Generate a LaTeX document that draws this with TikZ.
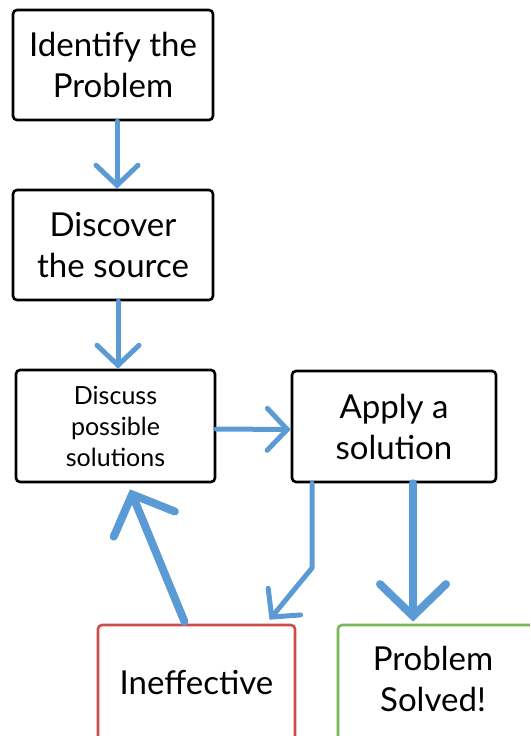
\documentclass[tikz,border=0pt]{standalone}
\usepackage{fontspec}
\setmainfont{Lato}
\usetikzlibrary{arrows.meta}
\definecolor{arrblue}{RGB}{91,155,213}
\definecolor{boxred}{RGB}{204,78,76}
\definecolor{boxgreen}{RGB}{118,184,86}
\tikzset{
  stepbox/.style={draw=black, line width=2.6pt, rounded corners=4pt, fill=white,
    align=center, inner sep=0pt, font=\fontsize{33}{41}\selectfont},
  conn/.style={draw=arrblue, line width=5pt, line cap=round, line join=round,
    -{Straight Barb[length=20pt,width=42pt,line cap=round]}},
  thickconn/.style={draw=arrblue, line width=8pt, line cap=round, line join=round,
    -{Straight Barb[length=32pt,width=66pt,line cap=round]}},
}
\begin{document}
\begin{tikzpicture}[x=1pt,y=1pt]
\useasboundingbox (0,0) rectangle (530,-736);
\clip (0,0) rectangle (530,-736);
\node[stepbox, minimum width=200pt, minimum height=110pt] (b1) at (113,-65) {Identify the\\ Problem};
\node[stepbox, minimum width=200pt, minimum height=110pt] (b2) at (113,-245) {Discover\\ the source};
\node[stepbox, minimum width=199pt, minimum height=112pt, font=\fontsize{25}{31}\selectfont] (b3) at (115.5,-426) {Discuss\\ possible\\ solutions};
\node[stepbox, minimum width=204pt, minimum height=111pt] (b4) at (394,-426.5) {Apply a\\ solution};
\node[stepbox, draw=boxred, minimum width=197pt, minimum height=116pt] (b5) at (196.5,-683) {Ineffective};
\node[stepbox, draw=boxgreen, minimum width=200pt, minimum height=116pt] (b6) at (438,-683) {\kern-10pt\begin{tabular}{@{}c@{}}Problem\\ Solved!\end{tabular}};
\coordinate (bend) at (312,-568);
\draw[conn] ([xshift=4pt]b1.south) -- ([xshift=4pt]b2.north);
\draw[conn] ([xshift=5pt]b2.south) -- ([xshift=2.5pt]b3.north);
\draw[conn] ([yshift=-3pt]b3.east) -- ([yshift=-3pt]b4.west);
\draw[conn] ([xshift=-82pt]b4.south) -- (bend) -- ([xshift=73pt,yshift=4pt]b5.north);
\draw[thickconn] ([xshift=19pt]b4.south) -- ([xshift=-25pt,yshift=2pt]b6.north);
\draw[thickconn] ([xshift=-12pt,yshift=2pt]b5.north) -- ([xshift=14.5pt,yshift=-6pt]b3.south);
\end{tikzpicture}
\end{document}
